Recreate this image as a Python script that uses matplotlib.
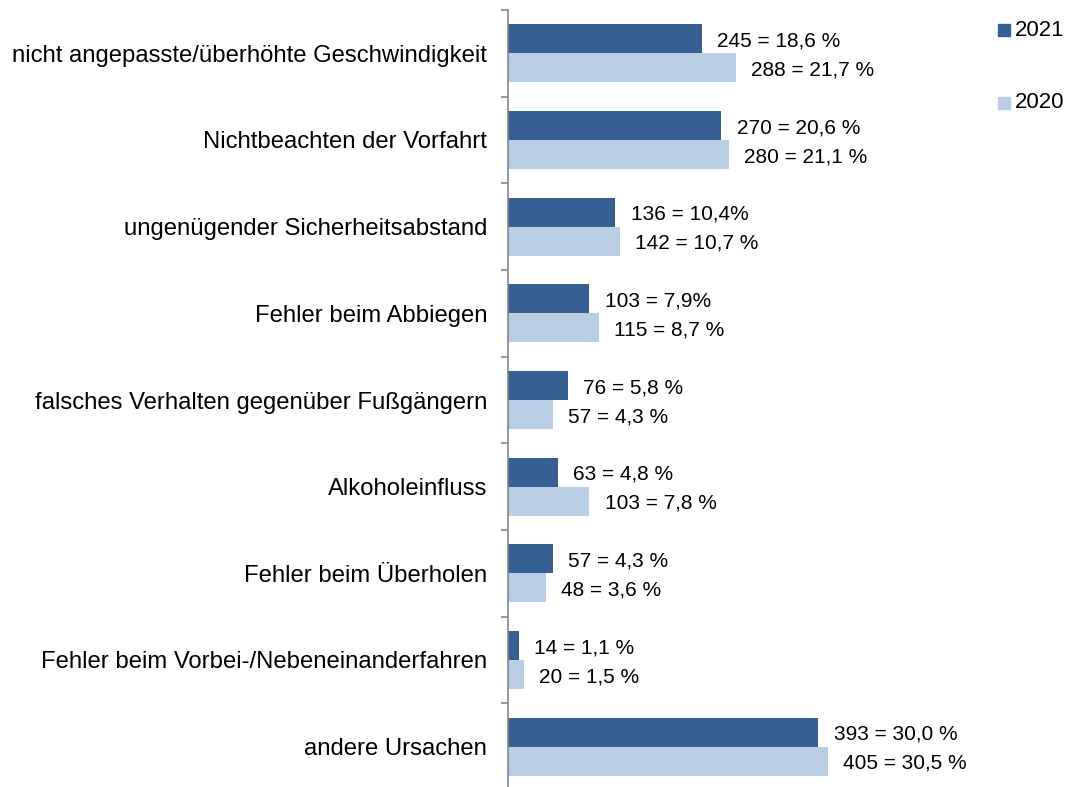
import matplotlib.pyplot as plt
import matplotlib.patches as mpatches
import numpy as np

plt.rcParams['font.family'] = ['Liberation Sans', 'DejaVu Sans']

categories = [
    'nicht angepasste/überhöhte Geschwindigkeit',
    'Nichtbeachten der Vorfahrt',
    'ungenügender Sicherheitsabstand',
    'Fehler beim Abbiegen',
    'falsches Verhalten gegenüber Fußgängern',
    'Alkoholeinfluss',
    'Fehler beim Überholen',
    'Fehler beim Vorbei-/Nebeneinanderfahren',
    'andere Ursachen',
]
values_2021 = [245, 270, 136, 103, 76, 63, 57, 14, 393]
values_2020 = [288, 280, 142, 115, 57, 103, 48, 20, 405]
labels_2021 = ['245 = 18,6 %', '270 = 20,6 %', '136 = 10,4%', '103 = 7,9%',
               '76 = 5,8 %', '63 = 4,8 %', '57 = 4,3 %', '14 = 1,1 %', '393 = 30,0 %']
labels_2020 = ['288 = 21,7 %', '280 = 21,1 %', '142 = 10,7 %', '115 = 8,7 %',
               '57 = 4,3 %', '103 = 7,8 %', '48 = 3,6 %', '20 = 1,5 %', '405 = 30,5 %']

c21 = '#376092'
c20 = '#b9cde5'

fig = plt.figure(figsize=(10.74, 7.87), dpi=100)
# axis runs a little past the bottom edge, as in the original
ax = fig.add_axes([508 / 1074, -3 / 787, 1 - 508 / 1074, 780 / 787])

y = np.arange(len(categories))
h = 0.336
ax.barh(y - h / 2, values_2021, height=h, color=c21, label='2021')
ax.barh(y + h / 2, values_2020, height=h, color=c20, label='2020')

for yi, v, t in zip(y, values_2021, labels_2021):
    ax.annotate(t, (v, yi - h / 2), xytext=(11, -1.5), textcoords='offset points',
                va='center', ha='left', fontsize=15)
for yi, v, t in zip(y, values_2020, labels_2020):
    ax.annotate(t, (v, yi + h / 2), xytext=(11, -1.5), textcoords='offset points',
                va='center', ha='left', fontsize=15)

ax.set_xlim(0, 566 / 0.79)
ax.set_ylim(len(categories) - 0.5, -0.5)

ax.set_yticks(y)
ax.set_yticklabels(categories, fontsize=17.2)
ax.tick_params(axis='y', which='major', length=0, pad=15)
ax.set_yticks(np.arange(len(categories) + 1) - 0.5, minor=True)
ax.tick_params(axis='y', which='minor', length=5, width=1.2, color='#868686')
ax.set_xticks([])

for s in ['top', 'right', 'bottom']:
    ax.spines[s].set_visible(False)
ax.spines['left'].set_color('#868686')
ax.spines['left'].set_linewidth(1.2)

# legend: two entries placed far apart, like the original
for ypx, col, txt in [(30, c21, '2021'), (103, c20, '2020')]:
    fig.patches.append(mpatches.Rectangle((998 / 1074, 1 - (ypx + 6) / 787), 12 / 1074, 12 / 787,
                                          transform=fig.transFigure, color=col))
    fig.text(1015 / 1074, 1 - ypx / 787, txt, fontsize=16, va='center', ha='left')

fig.savefig('out.png', dpi=100)
